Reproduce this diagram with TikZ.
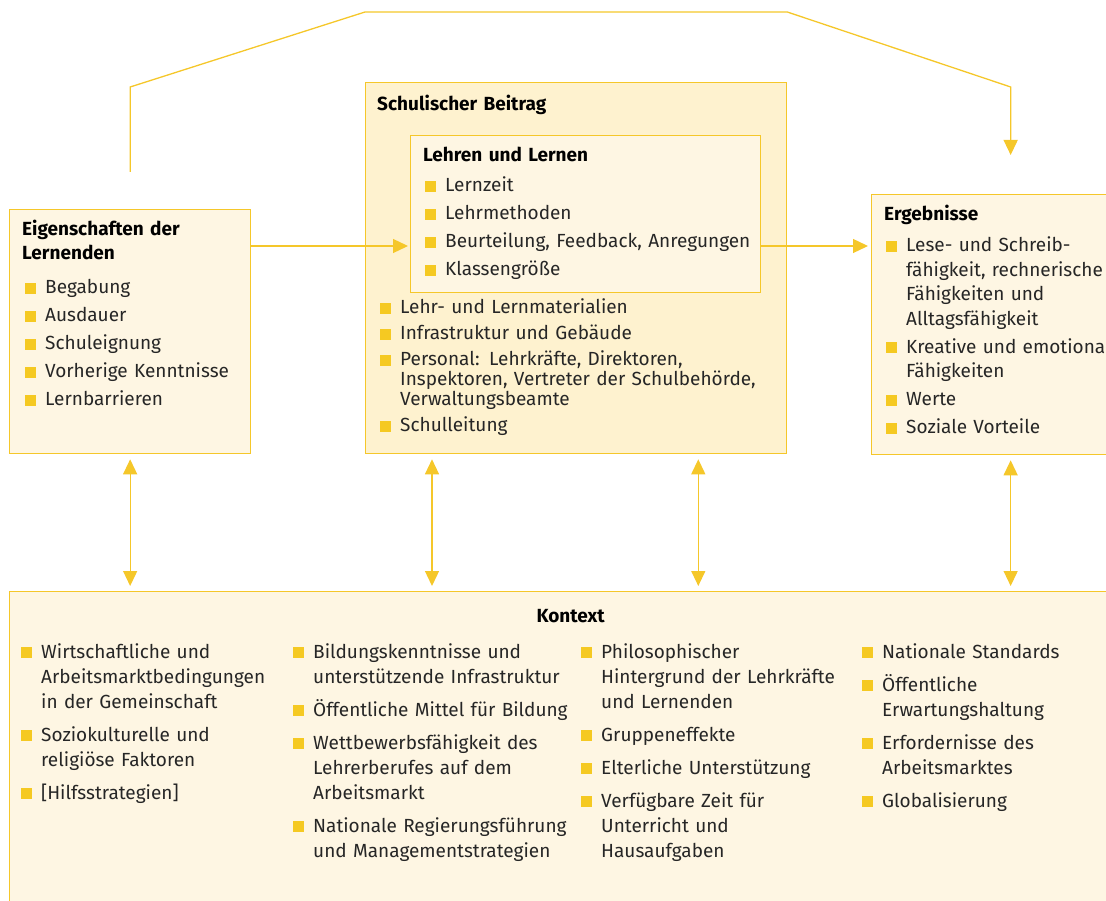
\documentclass[tikz,border=0pt]{standalone}
\usepackage{fontspec}
\setmainfont{Fira Sans}
\usepackage{tikz}
\usetikzlibrary{arrows.meta, positioning, calc}
\definecolor{myline}{HTML}{F5C72A}
\definecolor{mybullet}{HTML}{F5C922}
\definecolor{mylight}{HTML}{FEF6E3}
\definecolor{mydeep}{HTML}{FEF2CF}
\definecolor{mytext}{HTML}{262626}
\newcommand{\bul}{\textcolor{mybullet}{\rule{11pt}{11pt}}}
\newcommand{\itm}[1]{\hangindent=20pt\hangafter=1\noindent\makebox[20pt][l]{\bul}{\let\\\newline #1}\par}
\newcommand{\gap}[1]{\raggedright\setlength{\parskip}{#1}}
\tikzset{
         mybox/.style={draw=myline, fill=mylight, line width=1.3pt, anchor=north west, inner sep=0pt},
         mytitle/.style={anchor=base west, inner sep=0pt, text=black, text width=#1, font=\bfseries\fontsize{19}{24}\selectfont},
         mylist/.style={anchor=base west, inner sep=0pt, text=mytext, text width=#1},
         myarrow/.style={draw=myline, line width=1.3pt, -{Triangle[width=14pt,length=15pt]}},
         mydouble/.style={draw=myline, line width=1.3pt, {Triangle[width=14pt,length=15pt]}-{Triangle[width=14pt,length=15pt]}, shorten <=5pt, shorten >=5pt}
      }
\begin{document}
\begin{tikzpicture}[x=1pt, y=1pt]
\useasboundingbox (0,0) rectangle (1106,-901);
\clip (0,0) rectangle (1106,-901);
% boxes
\node[mybox, minimum width=241pt, minimum height=244pt] (eig) at (9,-209) {};
\node[mybox, fill=mydeep, minimum width=421pt, minimum height=371pt] (schul) at (365,-82) {};
\node[mybox, minimum width=350pt, minimum height=157pt] (lehr) at (410,-135) {};
\node[mybox, minimum width=278pt, minimum height=260pt] (erg) at (871,-194) {};
\node[mybox, minimum width=1122pt, minimum height=340pt] (ktx) at (9,-591) {};
% titles
\node[mytitle=220pt] (eigT) at ($(eig.north west)+(13,-27)$) {Eigenschaften der\\Lernenden};
\node[mytitle=300pt] (schulT) at ($(schul.north west)+(12,-29)$) {Schulischer Beitrag};
\node[mytitle=300pt] (lehrT) at ($(lehr.north west)+(13,-27)$) {Lehren und Lernen};
\node[mytitle=240pt] (ergT) at ($(erg.north west)+(13,-27)$) {Ergebnisse};
\node[mytitle=200pt, anchor=base, align=center] (ktxT) at ($(ktx.north)+(0,-31)$) {Kontext};
% lists
\node[mylist=215pt, font=\fontsize{19}{24}\selectfont] (eigL) at ($(eig.north west)+(16,-85)$)
  {\gap{4pt}\itm{Begabung}\itm{Ausdauer}\itm{Schuleignung}\itm{Vorherige Kenntnisse}\itm{Lernbarrieren}};
\node[mylist=330pt, font=\fontsize{19}{24}\selectfont] (lehrL) at ($(lehr.north west)+(15,-57)$)
  {\gap{4pt}\itm{Lernzeit}\itm{Lehrmethoden}\itm{Beurteilung, Feedback, Anregungen}\itm{Klassengröße}};
\node[mylist=410pt, font=\fontsize{19}{20}\selectfont] (schulL) at ($(schul.north west)+(15,-232)$)
  {\gap{6pt}\itm{Lehr- und Lernmaterialien}\itm{Infrastruktur und Gebäude}
   \itm{Personal: Lehrkräfte, Direktoren,\\Inspektoren, Vertreter der Schulbehörde,\\Verwaltungsbeamte}\itm{Schulleitung}};
\node[mylist=270pt, font=\fontsize{19}{24.5}\selectfont] (ergL) at ($(erg.north west)+(15,-58)$)
  {\gap{3.5pt}\itm{Lese- und Schreib-\\fähigkeit, rechnerische\\Fähigkeiten und\\Alltagsfähigkeit}
   \itm{Kreative und emotionale\\Fähigkeiten}\itm{Werte}\itm{Soziale Vorteile}};
\node[mylist=265pt, font=\fontsize{19}{25}\selectfont] (ktxA) at ($(ktx.north west)+(12,-67)$)
  {\gap{8pt}\itm{Wirtschaftliche und\\Arbeitsmarktbedingungen\\in der Gemeinschaft}
   \itm{Soziokulturelle und\\religiöse Faktoren}\itm{[Hilfsstrategien]}};
\node[mylist=285pt, font=\fontsize{19}{25}\selectfont] (ktxB) at ($(ktx.north west)+(284,-67)$)
  {\gap{8pt}\itm{Bildungskenntnisse und\\unterstützende Infrastruktur}\itm{Öffentliche Mittel für Bildung}
   \itm{Wettbewerbsfähigkeit des\\Lehrerberufes auf dem\\Arbeitsmarkt}\itm{Nationale Regierungsführung\\und Managementstrategien}};
\node[mylist=275pt, font=\fontsize{19}{25}\selectfont] (ktxC) at ($(ktx.north west)+(572,-67)$)
  {\gap{8pt}\itm{Philosophischer\\Hintergrund der Lehrkräfte\\und Lernenden}\itm{Gruppeneffekte}
   \itm{Elterliche Unterstützung}\itm{Verfügbare Zeit für\\Unterricht und\\Hausaufgaben}};
\node[mylist=260pt, font=\fontsize{19}{25}\selectfont] (ktxD) at ($(ktx.north west)+(853,-67)$)
  {\gap{8pt}\itm{Nationale Standards}\itm{Öffentliche\\Erwartungshaltung}
   \itm{Erfordernisse des\\Arbeitsmarktes}\itm{Globalisierung}};
% connectors
\coordinate (ein) at ([yshift=-37pt]eig.north east);
\draw[myarrow, shorten >=2pt] (ein) -- (ein -| lehr.west);
\draw[myarrow, shorten >=3pt] (ein -| lehr.east) -- (ein -| erg.west);
\draw[myarrow] ([yshift=37pt]eig.north) -- ([yshift=122pt]eig.north) -- ([yshift=70pt]schul.north west)
  -- ([yshift=70pt]schul.north east) -- ([yshift=107pt]erg.north) -- ([yshift=39pt]erg.north);
\coordinate (s1) at ([xshift=67pt]schul.south west);
\coordinate (s2) at ([xshift=-89pt]schul.south east);
\draw[mydouble] (eig.south) -- (eig.south |- ktx.north);
\draw[mydouble] (s1) -- (s1 |- ktx.north);
\draw[mydouble] (s2) -- (s2 |- ktx.north);
\draw[mydouble] (erg.south) -- (erg.south |- ktx.north);
\end{tikzpicture}
\end{document}
